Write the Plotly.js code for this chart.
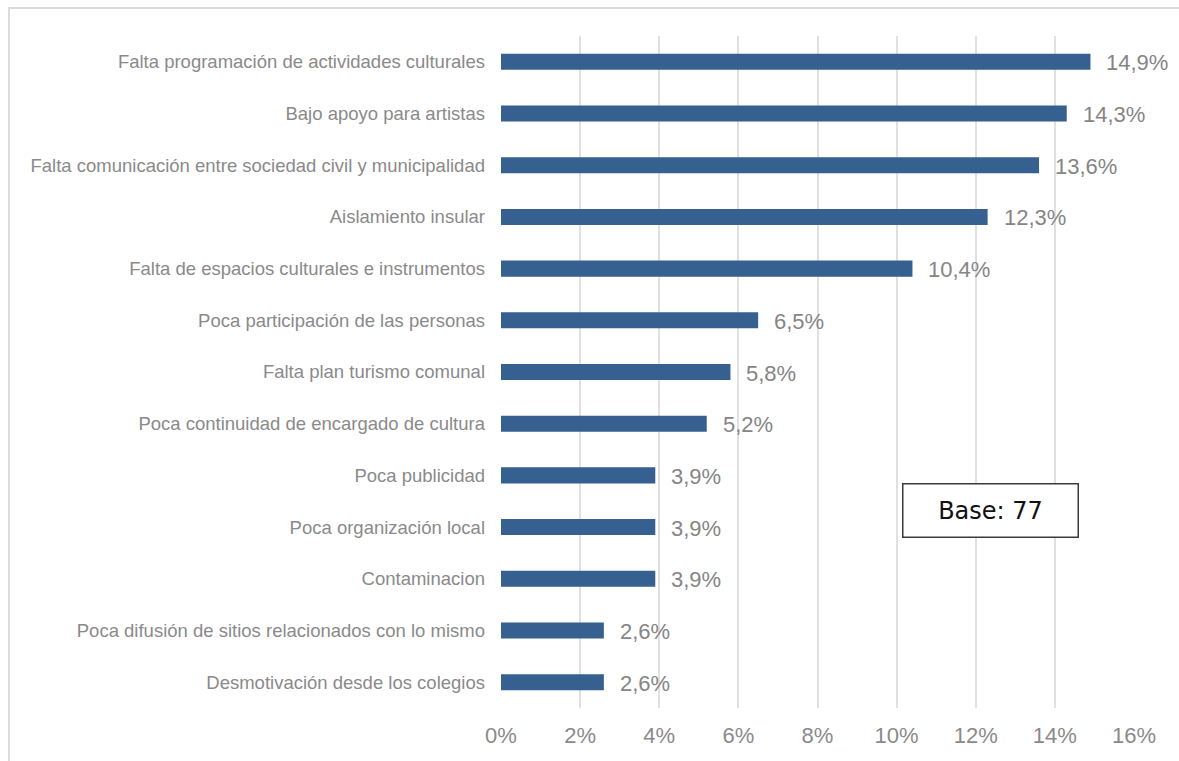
<!DOCTYPE html>
<html>
<head>
<meta charset="utf-8">
<script src="https://cdn.plot.ly/plotly-3.0.1.min.js"></script>
<style>
  html, body { margin: 0; padding: 0; background: #ffffff; overflow: hidden; width: 1179px; height: 761px; }
  #frame { position: absolute; left: 8px; top: 7px; width: 1171px; height: 754px;
           border-left: 2px solid #dcdcdc; border-top: 2px solid #dcdcdc; box-sizing: border-box; }
  #chart { position: absolute; left: 0; top: 0; width: 1179px; height: 761px; }
</style>
</head>
<body>
<div id="frame"></div>
<div id="chart"></div>
<script>
const categories = [
  "Falta programación de actividades culturales",
  "Bajo apoyo para artistas",
  "Falta comunicación entre sociedad civil y municipalidad",
  "Aislamiento insular",
  "Falta de espacios culturales e instrumentos",
  "Poca participación de las personas",
  "Falta plan turismo comunal",
  "Poca continuidad de encargado de cultura",
  "Poca publicidad",
  "Poca organización local",
  "Contaminacion",
  "Poca difusión de sitios relacionados con lo mismo",
  "Desmotivación desde los colegios"
];
const values = [14.9, 14.3, 13.6, 12.3, 10.4, 6.5, 5.8, 5.2, 3.9, 3.9, 3.9, 2.6, 2.6];
const tickValues = [0, 2, 4, 6, 8, 10, 12, 14, 16];
const baseLabel = "Base: 77";

const fmt = v => v.toFixed(1).replace('.', ',') + '%';
const grayText = '#8a8a8a';

const trace = {
  type: 'bar',
  orientation: 'h',
  x: values,
  y: categories,
  marker: { color: '#36608f' },
  width: 0.31,
  hoverinfo: 'skip'
};

const annotations = values.map((v, i) => ({
  x: v, y: categories[i], xref: 'x', yref: 'y',
  text: fmt(v), showarrow: false, xanchor: 'left', yanchor: 'middle',
  xshift: 14, yshift: -1,
  font: { family: 'Liberation Sans, Arial, sans-serif', size: 22, color: '#858585' }
}));

annotations.push({
  x: 0.774, y: 0.2946, xref: 'paper', yref: 'paper',
  text: baseLabel, showarrow: false, xanchor: 'center', yanchor: 'middle',
  width: 174, height: 52,
  bordercolor: '#3a3a3a', borderwidth: 1.5, borderpad: 0, bgcolor: '#ffffff',
  font: { family: 'DejaVu Sans, Verdana, sans-serif', size: 24, color: '#111111' }
});

const layout = {
  width: 1179, height: 761,
  margin: { l: 501, r: 45, t: 36, b: 53 },
  paper_bgcolor: 'rgba(0,0,0,0)',
  plot_bgcolor: 'rgba(0,0,0,0)',
  showlegend: false,
  xaxis: {
    range: [0, 16],
    tickvals: tickValues,
    ticktext: tickValues.map(t => t + '%'),
    showgrid: true, gridcolor: '#e0e0e0', gridwidth: 2,
    zeroline: false, showline: false, ticks: '',
    ticklabelstandoff: 12,
    tickfont: { family: 'Liberation Sans, Arial, sans-serif', size: 22, color: grayText },
    fixedrange: true
  },
  yaxis: {
    type: 'category',
    autorange: 'reversed',
    showgrid: false, zeroline: false, showline: false, ticks: '',
    ticklabelstandoff: 15,
    tickfont: { family: 'Liberation Sans, Arial, sans-serif', size: 18.5, color: grayText },
    fixedrange: true
  },
  annotations: annotations
};

Plotly.newPlot('chart', [trace], layout, { displayModeBar: false, staticPlot: true });
</script>
</body>
</html>
